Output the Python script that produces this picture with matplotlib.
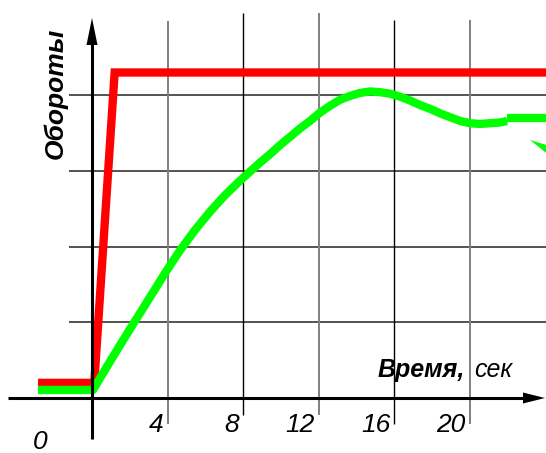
import matplotlib
matplotlib.use("Agg")
import matplotlib.pyplot as plt
from matplotlib.patches import Polygon

# ---- data ----
tick_values = [4, 8, 12, 16, 20]
tick_labels = ["4", "8", "12", "16", "20"]
hgrid_values = [1, 2, 3, 4]

red_t = [-2.86, 0.12, 1.20, 24.10]
red_v = [0.20, 0.20, 4.30, 4.30]

green_t = [-2.86, 0.05, 0.95, 2.01, 3.07, 3.87, 4.66, 5.46, 6.25, 7.05, 7.84,
           8.37, 8.90, 9.43, 9.96, 10.49, 11.02, 11.55, 12.08, 12.61, 13.14,
           13.67, 14.20, 14.73, 15.26, 15.79, 16.32, 16.85, 17.38, 17.91,
           18.44, 18.97, 19.50, 20.03, 20.56, 21.09, 21.62, 21.99]
green_v = [0.106, 0.106, 0.48, 0.91, 1.33, 1.65, 1.95, 2.22, 2.46, 2.68, 2.87,
           2.99, 3.11, 3.22, 3.34, 3.45, 3.56, 3.66, 3.77, 3.86, 3.94,
           3.99, 4.03, 4.05, 4.04, 4.02, 3.98, 3.93, 3.87, 3.82,
           3.76, 3.71, 3.66, 3.63, 3.62, 3.63, 3.64, 3.66]

green2_t = [21.99, 24.10]
green2_v = [3.70, 3.70]

wedge_t = [23.20, 24.10, 24.10]
wedge_v = [3.41, 3.34, 3.23]

# ---- layout (pixel scale) ----
W, H = 546, 453
X0, Y0 = 92, 398          # origin in pixels
SX, SY = 18.875, 75.7      # px per unit

def tx(px):
    return (px - X0) / SX

def vy(py):
    return (Y0 - py) / SY

fig = plt.figure(figsize=(W / 100, H / 100), dpi=100)
ax = fig.add_axes([0, 0, 1, 1])
ax.set_xlim(tx(0), tx(W))
ax.set_ylim(vy(H), vy(0))
ax.axis("off")

FONT = "Liberation Sans"

# horizontal grid
for v in hgrid_values:
    ax.plot([tx(69), tx(W)], [v, v], color="#444444", lw=1.3, zorder=1,
            solid_capstyle="butt")

# vertical grid
vg_style = {4: ("#808080", 1.4, 21, 424), 8: ("#000000", 1.0, 13, 415),
            12: ("#808080", 1.4, 13, 415), 16: ("#000000", 1.0, 20, 424),
            20: ("#808080", 1.4, 20, 424)}
for t in tick_values:
    c, lw, top, bot = vg_style[t]
    ax.plot([t, t], [vy(bot), vy(top)], color=c, lw=lw, zorder=1,
            solid_capstyle="butt")

# axes lines + arrows
ax.plot([tx(8), tx(530)], [0, 0], color="black", lw=2.2, zorder=5,
        solid_capstyle="butt")
ax.add_patch(Polygon([[tx(523), vy(Y0 - 5.5)], [tx(545), 0], [tx(523), vy(Y0 + 5.5)]],
                     closed=True, color="black", zorder=5, lw=0))
ax.plot([0, 0], [vy(439), vy(30)], color="black", lw=2.2, zorder=5,
        solid_capstyle="butt")
ax.add_patch(Polygon([[tx(X0 - 5.5), vy(45)], [0, vy(18)], [tx(X0 + 5.5), vy(45)]],
                     closed=True, color="black", zorder=5, lw=0))

# curves
ax.plot(red_t, red_v, color="#ff0000", lw=6.0, zorder=3,
        solid_capstyle="butt", solid_joinstyle="miter")
ax.plot(green_t, green_v, color="#00ff00", lw=6.0, zorder=3,
        solid_capstyle="butt", solid_joinstyle="round")
ax.plot(green2_t, green2_v, color="#00ff00", lw=6.0, zorder=3,
        solid_capstyle="butt")
ax.add_patch(Polygon(list(zip(wedge_t, wedge_v)), closed=True,
                     color="#00ff00", lw=0, zorder=3))

# tick labels
for t, lab in zip(tick_values, tick_labels):
    ax.text(t - 0.2, vy(425), lab, ha="right", va="center", fontsize=19,
            style="italic", family=FONT, zorder=6)
ax.text(tx(40), vy(442), "0", ha="center", va="center", fontsize=19,
        style="italic", family=FONT, zorder=6)

# axis titles
ax.text(tx(55), vy(93), "Обороты", rotation=90, ha="center", va="center",
        fontsize=19, style="italic", weight="bold", family=FONT, zorder=6)
ax.text(tx(378), vy(377), "Время,", ha="left", va="baseline", fontsize=18,
        style="italic", weight="bold", family=FONT, zorder=6)
ax.text(tx(474), vy(377), "сек", ha="left", va="baseline", fontsize=18,
        style="italic", family=FONT, zorder=6)

fig.savefig("out.png", dpi=100)
